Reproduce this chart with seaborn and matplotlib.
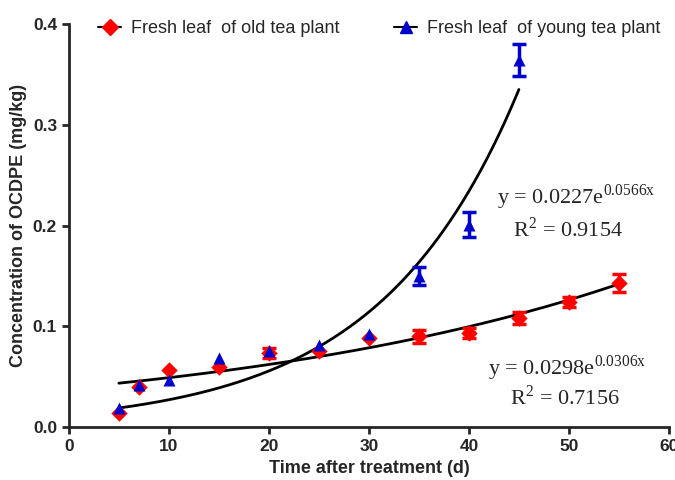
import numpy as np
import pandas as pd
import matplotlib
matplotlib.use('Agg')
import matplotlib.pyplot as plt
from matplotlib.lines import Line2D
import seaborn as sns

# datos
days_old = [5, 7, 10, 15, 20, 25, 30, 35, 40, 45, 50, 55]
conc_old = [0.014, 0.040, 0.057, 0.060, 0.074, 0.076, 0.088, 0.090, 0.093, 0.108, 0.124, 0.143]
# nan = sin barra de error visible
err_old = [np.nan, np.nan, np.nan, np.nan, 0.005, np.nan, np.nan, 0.006, 0.005, 0.006, 0.005, 0.009]

days_young = [5, 7, 10, 15, 20, 25, 30, 35, 40, 45]
conc_young = [0.019, 0.042, 0.047, 0.069, 0.076, 0.082, 0.092, 0.150, 0.201, 0.364]
err_young = [np.nan, np.nan, np.nan, np.nan, np.nan, np.nan, np.nan, 0.009, 0.012, 0.016]

# parametros de las curvas dibujadas (a * exp(b * x))
fit_old = (0.0388, 0.0236, 5, 55)
fit_young = (0.0133, 0.0717, 5, 45)

eq_old = [r'y = 0.0298e$^{\mathrm{0.0306x}}$', r'R$^{\mathrm{2}}$ = 0.7156']
eq_young = [r'y = 0.0227e$^{\mathrm{0.0566x}}$', r'R$^{\mathrm{2}}$ = 0.9154']

label_old = 'Fresh leaf  of old tea plant'
label_young = 'Fresh leaf  of young tea plant'

sns.set_style('ticks')
plt.rcParams['font.family'] = ['Liberation Sans', 'DejaVu Sans']
plt.rcParams['mathtext.fontset'] = 'custom'
plt.rcParams['mathtext.rm'] = 'Liberation Serif'

red = '#FF0000'
blue = '#0000CC'

df_old = pd.DataFrame({'x': days_old, 'y': conc_old})
df_young = pd.DataFrame({'x': days_young, 'y': conc_young})

fig = plt.figure(figsize=(6.75, 4.8), dpi=100)
ax = fig.add_axes([0.102, 0.110, 0.889, 0.840])

# curvas de ajuste
for a, b, x0, x1 in [fit_old, fit_young]:
    xs = np.linspace(x0, x1, 200)
    ax.plot(xs, a * np.exp(b * xs), color='black', lw=2, zorder=2)

ax.errorbar(days_old, conc_old, yerr=err_old, fmt='none', ecolor=red,
            elinewidth=2.5, capsize=5, capthick=2.5, zorder=3)
sns.scatterplot(data=df_old, x='x', y='y', marker='D', color=red, s=70,
                edgecolor=red, linewidth=0, ax=ax, zorder=4)
ax.errorbar(days_young, conc_young, yerr=err_young, fmt='none', ecolor=blue,
            elinewidth=2.5, capsize=5, capthick=2.5, zorder=5)
sns.scatterplot(data=df_young, x='x', y='y', marker='^', color=blue, s=75,
                edgecolor=blue, linewidth=0, ax=ax, zorder=6)

ax.set_xlim(0, 60)
ax.set_ylim(0, 0.4)
ax.set_xticks(range(0, 61, 10))
ax.set_yticks([0.0, 0.1, 0.2, 0.3, 0.4])
ax.set_yticklabels(['0.0', '0.1', '0.2', '0.3', '0.4'])
sns.despine(ax=ax)
for sp in ['left', 'bottom']:
    ax.spines[sp].set_linewidth(2)
ax.tick_params(width=2, length=5, labelsize=12.5)
for lab in ax.get_xticklabels() + ax.get_yticklabels():
    lab.set_fontweight('bold')

ax.set_xlabel('Time after treatment (d)', fontsize=13, fontweight='bold')
ax.set_ylabel('Concentration of OCDPE (mg/kg)', fontsize=13, fontweight='bold')

serif = 'Liberation Serif'
ax.text(42.8, 0.222, eq_young[0], fontsize=16, family=serif, va='baseline')
ax.text(44.4, 0.1886, eq_young[1], fontsize=16, family=serif, va='baseline')
ax.text(41.9, 0.0516, eq_old[0], fontsize=16, family=serif, va='baseline')
ax.text(44.1, 0.0218, eq_old[1], fontsize=16, family=serif, va='baseline')

handles = [
    Line2D([], [], color='black', lw=1.5, marker='D', markersize=8,
           markerfacecolor=red, markeredgecolor=red),
    Line2D([], [], color='black', lw=1.5, marker='^', markersize=9,
           markerfacecolor=blue, markeredgecolor=blue),
]
fig.legend(handles, [label_old, label_young], loc='center left',
           bbox_to_anchor=(0.145, 0.94), ncol=2, frameon=False, fontsize=13,
           handlelength=1.3, handletextpad=0.55, columnspacing=3.0,
           borderpad=0, borderaxespad=0)

fig.savefig('out.png', dpi=100)
